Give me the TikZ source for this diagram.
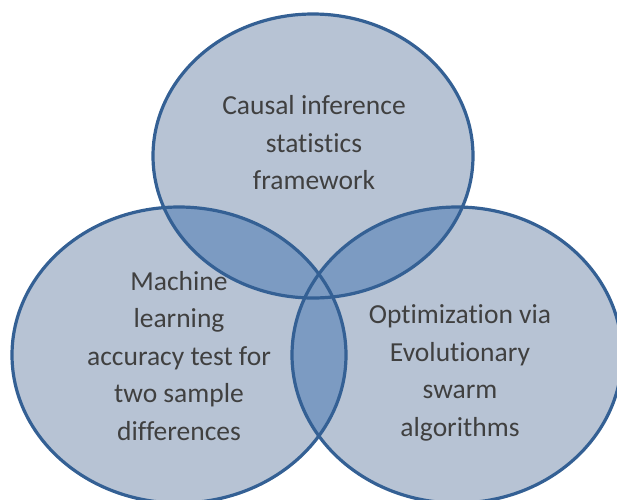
\documentclass[tikz,border=0pt]{standalone}
\usepackage{fontspec}
\setmainfont{Carlito}[Ligatures=NoCommon]
\definecolor{setfill}{RGB}{183,195,212}
\definecolor{setmix}{RGB}{124,155,194}
\definecolor{setline}{RGB}{52,96,148}
\definecolor{settext}{RGB}{64,64,64}
% the three sets
\def\setCausal{(313,156) ellipse [x radius=160pt, y radius=142pt]}
\def\setLearn{(179,355) ellipse [x radius=167pt, y radius=148pt]}
\def\setSwarm{(457,355) ellipse [x radius=165pt, y radius=148pt]}
\begin{document}
\begin{tikzpicture}[x=1pt,y=-1pt,line width=3.2pt,every node/.style={font=\fontsize{27.5}{37.5}\selectfont,text=settext,align=center}]
    \useasboundingbox (0,0) rectangle (617,499);
    \foreach \s in {\setCausal,\setLearn,\setSwarm}
        \fill[setfill] \s;
    % overlaps
    \begin{scope}
        \clip \setCausal;
        \fill[setmix] \setLearn;
        \fill[setmix] \setSwarm;
    \end{scope}
    \begin{scope}
        \clip \setLearn;
        \fill[setmix] \setSwarm;
    \end{scope}
    \foreach \s in {\setCausal,\setLearn,\setSwarm}
        \draw[setline] \s;

    \node (causal) at (314,143) {Causal inference\\statistics\\framework};
    \node (learn) at (179,356) {Machine\\learning\\accuracy test for\\two sample\\differences};
    \node (swarm) at (460,373) {Optimization via\\Evolutionary\\swarm\\algorithms};
\end{tikzpicture}
\end{document}
